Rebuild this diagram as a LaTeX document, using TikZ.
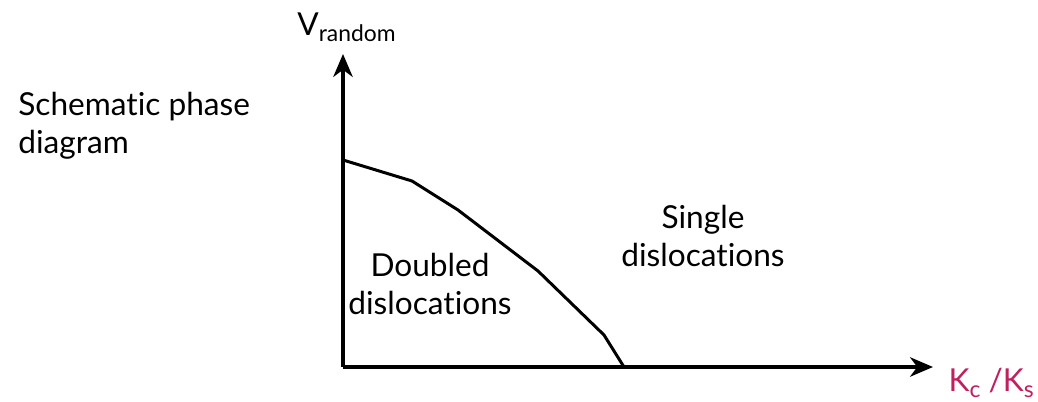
\documentclass[tikz,border=0pt]{standalone}
\usepackage{fontspec}
\setmainfont{Lato}[Ligatures=NoCommon]
\usetikzlibrary{arrows.meta}
\definecolor{ratiopink}{RGB}{192,32,96}
\newcommand{\lowsub}[1]{\raisebox{-0.35ex}{\fontsize{13}{13}\selectfont #1}}

\begin{document}
\begin{tikzpicture}[
    x=0.02cm, y=0.02cm,
    axis/.style={line width=2.2pt, -{Stealth[length=13pt, width=11pt, inset=4pt]}},
    boundary/.style={line width=1.7pt, line join=round},
    every node/.style={font=\fontsize{18}{21.6}\selectfont, inner sep=0pt}
]
    \useasboundingbox (0,0) rectangle (1038,402);

    % Define Coordinates
    \coordinate (O) at (343,35);   % Origin
    \coordinate (Ytip) at (343,348); % Top of vertical axis
    \coordinate (Xtip) at (933,35);  % End of horizontal axis

    % Points along the phase boundary
    \coordinate (P1) at (343,242);
    \coordinate (P2) at (412,221);
    \coordinate (P3) at (458,192);
    \coordinate (P4) at (538,131);
    \coordinate (P5) at (604,67);
    \coordinate (P6) at (624,35);

    % Draw Axes
    \draw[axis] (O) -- (Ytip);
    \draw[axis] (O) -- (Xtip);

    % Draw Phase Boundary
    \draw[boundary] (P1) -- (P2) -- (P3) -- (P4) -- (P5) -- (P6);

    % Axis labels
    \node[anchor=base west] (vlabel) at (297,366) {V\lowsub{random}};
    \node[anchor=base east, text=ratiopink] (klabel) at (1034,10)
        {K\lowsub{c} /K\lowsub{s}};

    % Titles and region labels
    \node[anchor=north west, align=left] (title) at (18,310)
        {Schematic phase\\diagram};
    \node[align=center] (doubled) at (430,118) {Doubled\\dislocations};
    \node[align=center] (single) at (703,166) {Single\\dislocations};

\end{tikzpicture}
\end{document}
